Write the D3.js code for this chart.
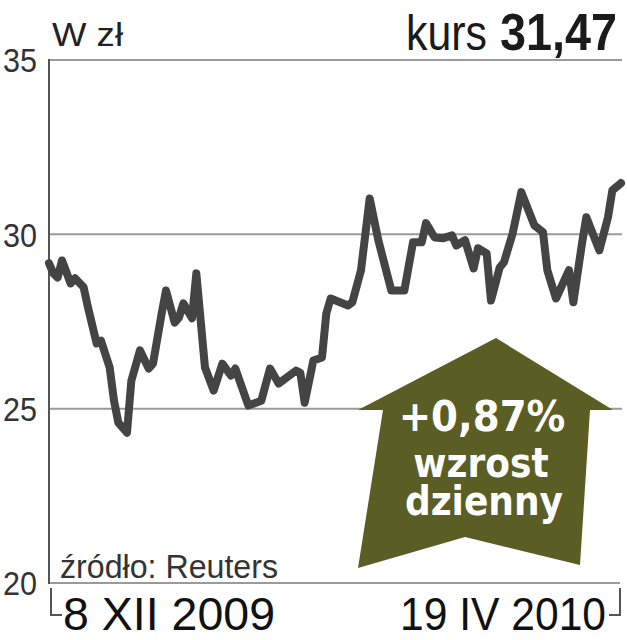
<!DOCTYPE html>
<html>
<head>
<meta charset="utf-8">
<script src="https://cdn.jsdelivr.net/npm/d3@7"></script>
<style>
  html, body { margin: 0; padding: 0; background: #fff; }
  svg { display: block; }
</style>
</head>
<body>
<svg id="chart" width="627" height="640"></svg>
<script>
// Days since 8 XII 2009 (trading sessions)
const days = [0,1,2,3,5,6,8,9,11,12,14,15,16,18,19,21,23,24,26,27,29,30,31,33,34,36,38,40,42,43,46,49,51,53,57,58,59,61,63,64,65,69,70,72,74,76,79,82,84,86,87,89,91,93,94,96,98,99,101,102,104,105,107,109,112,114,115,117,120,121,123,124,127,129,130,132];
// Closing price, zł
const prices = [29.17,28.88,28.76,29.25,28.59,28.74,28.48,27.90,26.87,26.95,26.18,25.23,24.60,24.31,25.80,26.67,26.15,26.29,27.73,28.39,27.47,27.61,28.02,27.59,28.88,26.18,25.52,26.29,25.95,26.15,25.09,25.23,26.15,25.72,26.09,26.03,25.17,26.38,26.47,27.73,28.16,27.96,28.05,28.97,31.03,29.83,28.39,28.39,29.77,29.77,30.32,29.91,29.89,29.97,29.68,29.83,29.02,29.60,29.45,28.10,29.05,29.20,30.03,31.21,30.26,30.06,28.97,28.16,28.97,28.05,29.74,30.49,29.54,30.49,31.26,31.47];
const yTicks = [20, 25, 30, 35];
const dateLabels = ["8 XII 2009", "19 IV 2010"];
const unitLabel = "W zł";
const kursLabel = "kurs";
const kursValue = "31,47";
const changeLabel = "+0,87%";
const changeText = ["wzrost", "dzienny"];
const sourceLabel = "źródło: Reuters";

const svg = d3.select("#chart");
const x = d3.scaleLinear().domain([0, 132]).range([49, 621]);
const y = d3.scaleLinear().domain([20, 35]).range([583, 60]);

const SANS = "'Liberation Sans', Arial, sans-serif";

// gridlines
svg.append("g").selectAll("line").data(yTicks).join("line")
  .attr("x1", 49).attr("x2", d => d === 20 ? 620 : 622)
  .attr("y1", d => y(d)).attr("y2", d => y(d))
  .attr("stroke", "#9a9a9a").attr("stroke-width", 2);

// y axis labels
const yAxis = d3.axisLeft(y).tickValues(yTicks).tickSize(0).tickPadding(0).tickFormat(d3.format("d"));
const gy = svg.append("g").attr("transform", "translate(37,0)").call(yAxis);
gy.select(".domain").remove();
gy.selectAll("text")
  .attr("font-family", SANS).attr("font-size", 33).attr("fill", "#333")
  .attr("dy", "0.36em").attr("textLength", 34).attr("lengthAdjust", "spacingAndGlyphs");

// left axis line
svg.append("line").attr("x1", 49).attr("x2", 49).attr("y1", 59).attr("y2", 584)
  .attr("stroke", "#555").attr("stroke-width", 2);

// bottom brackets
svg.append("path").attr("d", "M51,588 V615 H62").attr("fill", "none").attr("stroke", "#555").attr("stroke-width", 2);
svg.append("path").attr("d", "M620,588 V615 H609").attr("fill", "none").attr("stroke", "#555").attr("stroke-width", 2);

// arrow badge
svg.append("path")
  .attr("d", "M496,338 L613,410 L590,410 L580,565 L465,537 L358,568 L383,410 L358,410 Z")
  .attr("fill", "#5a5d24");

// price line
const data = days.map((d, i) => ({ d, v: prices[i] }));
svg.append("path").datum(data)
  .attr("fill", "none").attr("stroke", "#444").attr("stroke-width", 8)
  .attr("stroke-linejoin", "round").attr("stroke-linecap", "round")
  .attr("d", d3.line().x(p => x(p.d)).y(p => y(p.v)));

// header texts
svg.append("text").attr("x", 52).attr("y", 46)
  .attr("font-family", SANS).attr("font-size", 33).attr("fill", "#222")
  .attr("textLength", 71).attr("lengthAdjust", "spacingAndGlyphs").text(unitLabel);

svg.append("text").attr("x", 406).attr("y", 50)
  .attr("font-family", SANS).attr("font-size", 50).attr("fill", "#1a1a1a")
  .attr("textLength", 81).attr("lengthAdjust", "spacingAndGlyphs").text(kursLabel);
svg.append("text").attr("x", 500).attr("y", 50)
  .attr("font-family", SANS).attr("font-weight", "bold").attr("font-size", 51).attr("fill", "#1a1a1a")
  .attr("textLength", 117).attr("lengthAdjust", "spacingAndGlyphs").text(kursValue);

// source
svg.append("text").attr("x", 60).attr("y", 578)
  .attr("font-family", SANS).attr("font-size", 34).attr("fill", "#333")
  .attr("textLength", 218).attr("lengthAdjust", "spacingAndGlyphs").text(sourceLabel);

// date labels
svg.append("text").attr("x", 63).attr("y", 630)
  .attr("font-family", SANS).attr("font-size", 46).attr("fill", "#111")
  .attr("textLength", 212).attr("lengthAdjust", "spacingAndGlyphs").text(dateLabels[0]);
svg.append("text").attr("x", 400).attr("y", 630)
  .attr("font-family", SANS).attr("font-size", 46).attr("fill", "#111")
  .attr("textLength", 206).attr("lengthAdjust", "spacingAndGlyphs").text(dateLabels[1]);

// badge texts
const BOLD = "'DejaVu Sans Condensed', 'DejaVu Sans', sans-serif";
svg.append("text").attr("x", 482).attr("y", 431).attr("text-anchor", "middle")
  .attr("font-family", BOLD).attr("font-weight", "bold").attr("font-stretch", "condensed")
  .attr("font-size", 43).attr("fill", "#fff").text(changeLabel);
const sub = svg.append("text").attr("text-anchor", "middle")
  .attr("font-family", BOLD).attr("font-weight", "bold").attr("font-stretch", "condensed")
  .attr("font-size", 40).attr("fill", "#fff");
sub.append("tspan").attr("x", 481).attr("y", 477).text(changeText[0]);
sub.append("tspan").attr("x", 484).attr("y", 515).text(changeText[1]);
</script>
</body>
</html>
